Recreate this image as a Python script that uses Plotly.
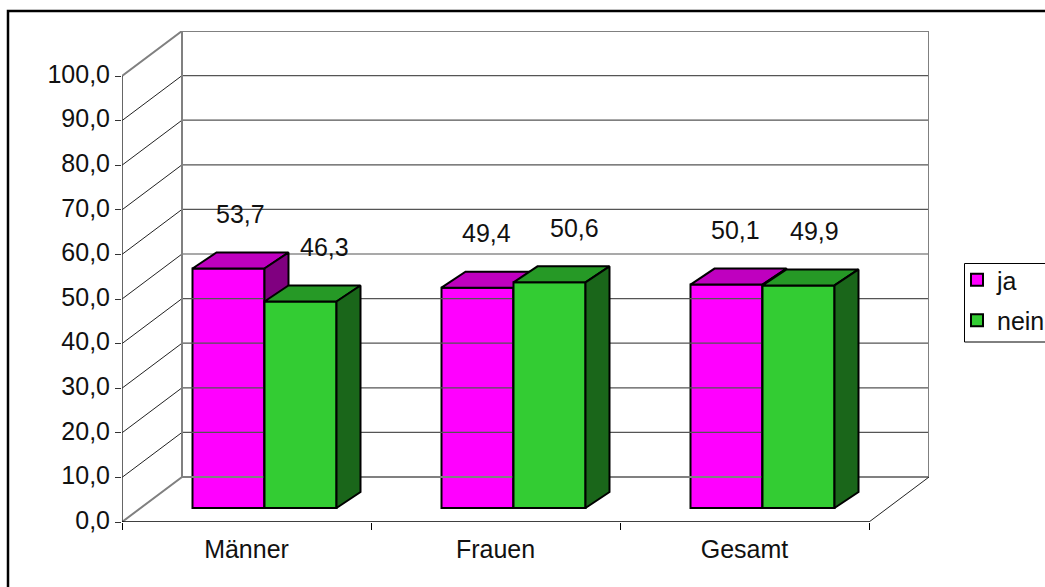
import plotly.graph_objects as go

categories = ["Männer", "Frauen", "Gesamt"]
ja_values = [53.7, 49.4, 50.1]
nein_values = [46.3, 50.6, 49.9]
y_ticks = [0, 10, 20, 30, 40, 50, 60, 70, 80, 90, 100]

# 3-D projection, in axis units
W, H = 1045, 587
PX_X, PX_Y = 249.0, 4.46
DX, DY = 60 / PX_X, 45 / PX_Y          # depth of the whole chart box
BAR_DX, BAR_DY = 24 / PX_X, 16 / PX_Y  # depth of one bar
FRONT_DX, FRONT_DY = 18 / PX_X, 14 / PX_Y  # front face offset of the bars
BAR_W = 72 / PX_X
N = len(categories)
TOP = y_ticks[-1]
FONT = dict(family="Liberation Sans, Arial, sans-serif", size=25, color="#111111")
GRAY = "#808080"

fig = go.Figure()


def lines(xs, ys, color, width):
    fig.add_trace(go.Scatter(x=xs, y=ys, mode="lines", line=dict(color=color, width=width),
                             showlegend=False, hoverinfo="skip", cliponaxis=False))


# walls and grid
for t in y_ticks[1:-1]:
    lines([0, DX], [t, t + DY], "#222222", 1)
    lines([DX, N + DX], [t + DY, t + DY], "#555555", 1.2)
lines([0, DX, N + DX, N + DX, DX], [TOP, TOP + DY, TOP + DY, DY, DY], GRAY, 2)
lines([0, DX, DX], [0, DY, TOP + DY], GRAY, 2)
lines([N, N + DX], [0, DY], "#222222", 1)
# axis lines stop at the front of the box
lines([0, 0], [0, TOP], "#333333", 1.5)
lines([0, N], [0, 0], "black", 1.5)


def bar_series(name, values, offset, front, top, side, xa, ya):
    xs = [i + 0.5 + FRONT_DX + offset for i in range(N)]
    fig.add_trace(go.Bar(x=xs, y=values, base=[FRONT_DY] * N, width=BAR_W, name=name, legendgroup=name,
                         marker=dict(color=front, line=dict(color="black", width=2)),
                         xaxis=xa, yaxis=ya, hoverinfo="skip"))
    for x, v in zip(xs, values):
        l, r, t, b = x - BAR_W / 2, x + BAR_W / 2, v + FRONT_DY, FRONT_DY
        for px, py, col in (
            ([l, l + BAR_DX, r + BAR_DX, r, l], [t, t + BAR_DY, t + BAR_DY, t, t], top),
            ([r, r + BAR_DX, r + BAR_DX, r, r], [t, t + BAR_DY, b + BAR_DY, b, t], side),
        ):
            fig.add_trace(go.Scatter(x=px, y=py, mode="lines", fill="toself", fillcolor=col,
                                     line=dict(color="black", width=2), showlegend=False,
                                     hoverinfo="skip", xaxis=xa, yaxis=ya))


bar_series("ja", ja_values, -BAR_W / 2, "#FF00FF", "#BF00BF", "#800080", "x", "y")
bar_series("nein", nein_values, BAR_W / 2, "#33CC33", "#269926", "#1A661A", "x2", "y2")

# data labels
LABEL_NUDGE = [12, 24, 9, 25, 9, 16]
LABEL_LIFT = 15.3
annots = []
k = 0
for i in range(N):
    for vals, off in ((ja_values, -BAR_W / 2), (nein_values, BAR_W / 2)):
        annots.append(dict(x=i + 0.5 + FRONT_DX + off, y=vals[i] + LABEL_LIFT, xref="x", yref="y",
                           text=f"{vals[i]:.1f}".replace(".", ","), showarrow=False,
                           xshift=LABEL_NUDGE[k], font=FONT))
        k += 1

x_range = [0, N + DX]
y_range = [0, TOP + DY]
L, R, T, B = 122, 116, 31, 65
PW, PH = W - L - R, H - T - B
fig.update_layout(
    width=W, height=H, margin=dict(l=L, r=R, t=T, b=B, autoexpand=False),
    paper_bgcolor="white", plot_bgcolor="white", separators=",.", barmode="overlay",
    font=FONT, annotations=annots,
    xaxis=dict(range=x_range, tickmode="array", tickvals=[i + 0.5 for i in range(N)], ticktext=categories,
               ticks="", showgrid=False, zeroline=False, showline=False,
               ticklabelstandoff=10, tickfont=FONT,
               minor=dict(tickmode="array", tickvals=list(range(N + 1)), ticks="outside", ticklen=7,
                          tickcolor="black", tickwidth=1, showgrid=False)),
    yaxis=dict(range=y_range, tickmode="array", tickvals=y_ticks, tickformat=".1f", ticks="outside",
               ticklen=6, tickcolor="#333333", tickwidth=1, showgrid=False, zeroline=False,
               showline=False, tickfont=FONT, ticklabelshift=-2),
    xaxis2=dict(range=x_range, overlaying="x", visible=False),
    yaxis2=dict(range=y_range, overlaying="y", visible=False),
    legend=dict(x=(965 - L) / PW, y=(H - B - 257) / PH, xanchor="left", yanchor="top",
                borderwidth=0, bgcolor="rgba(0,0,0,0)", font=FONT,
                traceorder="grouped", tracegroupgap=5, indentation=-8, itemclick=False),
    shapes=[dict(type="rect", xref="paper", yref="paper",
                 x0=(8 - L) / PW, x1=(W + 10 - L) / PW,
                 y0=(H - B - 600) / PH, y1=(H - B - 11) / PH,
                 line=dict(color="black", width=2.5), fillcolor="rgba(0,0,0,0)", layer="above"),
            dict(type="rect", xref="paper", yref="paper",
                 x0=(964.5 - L) / PW, x1=(W + 10 - L) / PW,
                 y0=(H - B - 342) / PH, y1=(H - B - 263.5) / PH,
                 line=dict(color="black", width=1), fillcolor="rgba(0,0,0,0)", layer="above")],
)
fig.write_html("out.html", config=dict(displayModeBar=False),
               post_script="document.body.style.margin='0';")
